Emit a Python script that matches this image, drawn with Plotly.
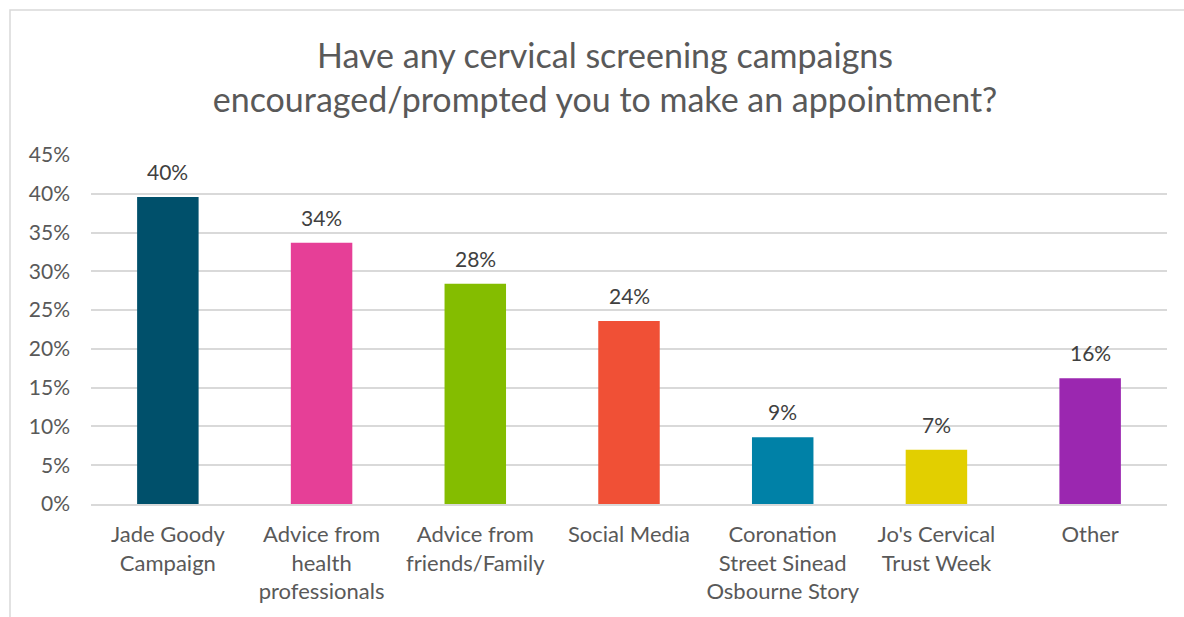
import plotly.graph_objects as go

categories = ["Jade Goody<br>Campaign", "Advice from<br>health<br>professionals",
              "Advice from<br>friends/Family", "Social Media",
              "Coronation<br>Street Sinead<br>Osbourne Story",
              "Jo's Cervical<br>Trust Week", "Other"]
values = [0.396, 0.337, 0.284, 0.236, 0.086, 0.070, 0.162]
colors = ["#00506B", "#E63F97", "#84BD00", "#F05036", "#0081A7", "#E2CF00", "#9B27B0"]
yticks = [0, 0.05, 0.10, 0.15, 0.20, 0.25, 0.30, 0.35, 0.40, 0.45]
title = "Have any cervical screening campaigns<br>encouraged/prompted you to make an appointment?"

FONT = "Lato"
TXT = "#595959"

fig = go.Figure()
fig.add_trace(go.Bar(x=categories, y=values, marker=dict(color=colors, line=dict(width=0)),
                     hoverinfo="skip"))

for c, v in zip(categories, values):
    fig.add_annotation(x=c, y=v, text=f"{round(v*100):.0f}%", showarrow=False,
                       yanchor="bottom", yshift=11,
                       font=dict(family=FONT, size=21, color="#404040"))

L, R, T, B = 91, 17, 155, 113
W, H = 1184, 617
pw, ph = W - L - R, H - T - B
fig.add_shape(type="rect", xref="paper", yref="paper",
              x0=(10 - L) / pw, x1=(W + 5 - L) / pw,
              y0=-(B + 5) / ph, y1=(H - B - 10) / ph,
              line=dict(color="#D9D9D9", width=1.5), fillcolor="rgba(0,0,0,0)", layer="below")

fig.update_layout(
    width=W, height=H,
    margin=dict(l=L, r=R, t=T, b=B),
    paper_bgcolor="white", plot_bgcolor="white",
    bargap=0.6,
    showlegend=False,
    title=dict(text=title, x=0.511, xanchor="center", y=1 - 68 / H, yanchor="middle",
               font=dict(family=FONT, size=34, color=TXT)),
    font=dict(family=FONT, color=TXT),
    xaxis=dict(showgrid=False, showline=True, linecolor="#D9D9D9", linewidth=1.5,
               ticks="", tickfont=dict(family=FONT, size=22, color=TXT),
               ticklabelstandoff=10),
    yaxis=dict(range=[0, 0.45], tickvals=yticks, tickformat=".0%", showgrid=True,
               gridcolor="#D9D9D9", gridwidth=1.5, zeroline=False, showline=False,
               ticks="", tickfont=dict(family=FONT, size=21, color=TXT),
               ticklabelstandoff=20),
)

fig.write_html("out.html")
